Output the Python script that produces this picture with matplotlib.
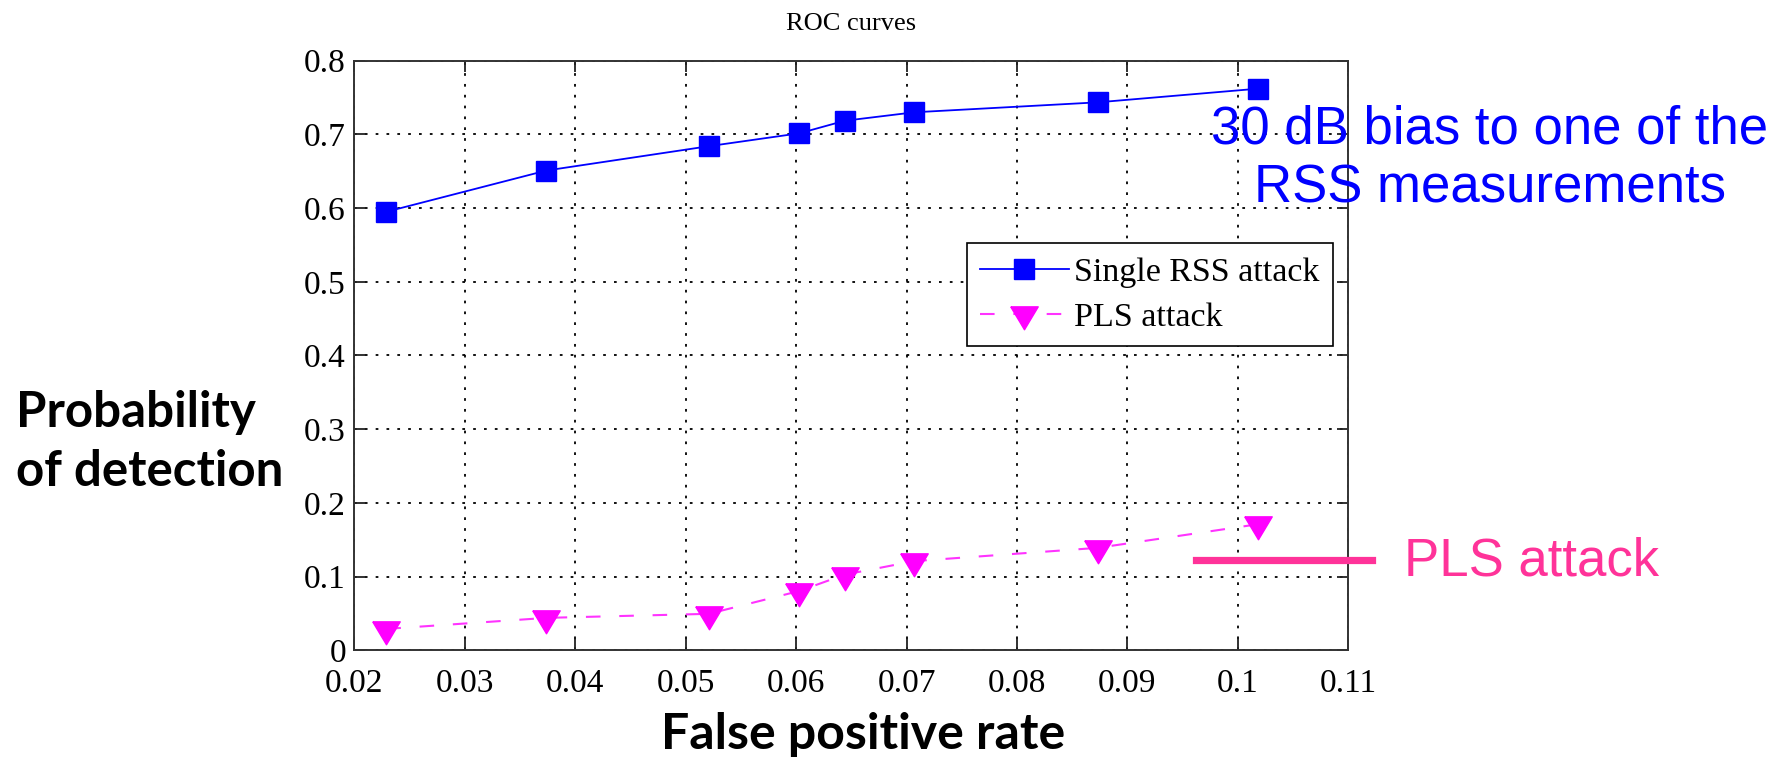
import numpy as np
import matplotlib
matplotlib.use('Agg')
import matplotlib.pyplot as plt
from matplotlib.lines import Line2D

plt.rcParams['font.family'] = ['Liberation Serif', 'DejaVu Serif']

# data
fpr = [0.0229, 0.0374, 0.0521, 0.0603, 0.0644, 0.0707, 0.0873, 0.1018]
pd_single = [0.595, 0.651, 0.684, 0.7015, 0.7185, 0.730, 0.7435, 0.762]
pd_pls = [0.029, 0.0440, 0.0495, 0.0805, 0.1026, 0.121, 0.139, 0.171]
xticks = [0.02, 0.03, 0.04, 0.05, 0.06, 0.07, 0.08, 0.09, 0.10, 0.11]
xticklabels = ['0.02', '0.03', '0.04', '0.05', '0.06', '0.07', '0.08', '0.09', '0.1', '0.11']
yticks = [0, 0.1, 0.2, 0.3, 0.4, 0.5, 0.6, 0.7, 0.8]
yticklabels = ['0', '0.1', '0.2', '0.3', '0.4', '0.5', '0.6', '0.7', '0.8']
series_names = ['Single RSS attack', 'PLS attack']

W, H = 1783, 761
fig = plt.figure(figsize=(W / 100, H / 100), dpi=100)
ax = fig.add_axes([354.3 / W, 1 - 650.3 / H, 994 / W, 589.6 / H])

# down triangle centred on its centroid, like MATLAB's 'v'
tri = [(-1, 0.557), (1, 0.557), (0, -1.113), (-1, 0.557)]

ax.plot(fpr, pd_single, color='#0000ff', lw=1.3, marker='s', ms=14,
        mfc='#0000ff', mec='#0000ff', label=series_names[0], zorder=3)
ax.plot(fpr, pd_pls, color='#ff33ff', lw=1.5, dashes=(7, 9), marker=tri, ms=22,
        mfc='#ff00ff', mec='#ff00ff', label=series_names[1], zorder=3)

ax.set_xlim(0.02, 0.11)
ax.set_ylim(0, 0.8)
ax.set_xticks(xticks)
ax.set_xticklabels(xticklabels)
ax.set_yticks(yticks)
ax.set_yticklabels(yticklabels)
ax.tick_params(direction='in', length=8, width=1.3, top=True, right=True,
               labelsize=24, color='#222222')
ax.tick_params(axis='x', pad=13)
ax.tick_params(axis='y', pad=6)
for s in ax.spines.values():
    s.set_linewidth(1.4)
    s.set_color('#333333')
ax.set_axisbelow(True)
ax.grid(True, color='k', linestyle=(0, (1.5, 4.5)), lw=1.3)

ax.set_title('ROC curves', fontsize=19, pad=22)

leg = ax.legend(loc='upper right', bbox_to_anchor=((1332.7 - 354.3) / 994, (650.3 - 243.3) / 589.6),
                borderaxespad=0, fontsize=24.5, fancybox=False, framealpha=1,
                edgecolor='k', handlelength=2.6, handletextpad=0.15,
                borderpad=0.4, labelspacing=0.42, numpoints=1)
leg.get_frame().set_linewidth(1.2)

# slide annotations
fig.text(863 / W, 1 - 749 / H, 'False positive rate', family='Lato', weight='bold',
         fontsize=36, ha='center', va='baseline')
fig.text(16 / W, 1 - 442 / H, 'Probability\nof detection', family='Lato', weight='bold',
         fontsize=35.5, ha='left', va='center', linespacing=1.4)
fig.text(1490 / W, 1 - 159 / H, '30 dB bias to one of the\nRSS measurements',
         family='Liberation Sans', fontsize=38, color='#0000ff', ha='center', va='center',
         linespacing=1.25)
fig.text(1404 / W, 1 - 561 / H, 'PLS attack', family='Liberation Sans', fontsize=38,
         color='#ff3399', ha='left', va='center')
fig.add_artist(Line2D([1196 / W, 1372 / W], [1 - 560 / H, 1 - 560 / H],
                      color='#ff3399', lw=5.2, transform=fig.transFigure))

fig.savefig('out.png', dpi=100)
